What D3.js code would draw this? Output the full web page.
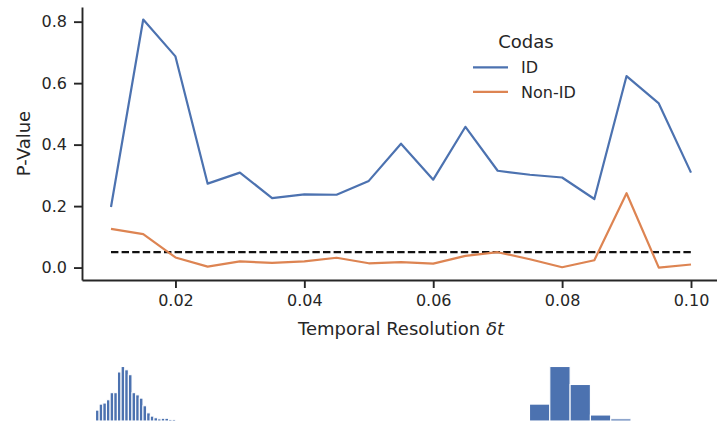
<!DOCTYPE html>
<html>
<head>
<meta charset="utf-8">
<script src="https://cdn.jsdelivr.net/npm/d3@7"></script>
<style>
  html, body { margin: 0; padding: 0; background: #fff; }
  svg { display: block; font-family: "DejaVu Sans", sans-serif; }
</style>
</head>
<body>
<svg id="chart" width="717" height="423"></svg>
<script>
// Temporal resolutions (s) at which the test was run
const resolutions = [0.010, 0.015, 0.020, 0.025, 0.030, 0.035, 0.040, 0.045, 0.050, 0.055,
                     0.060, 0.065, 0.070, 0.075, 0.080, 0.085, 0.090, 0.095, 0.100];
// P-values for identity codas
const idValues = [0.197, 0.807, 0.687, 0.273, 0.309, 0.226, 0.238, 0.237, 0.282, 0.403,
                  0.286, 0.458, 0.315, 0.302, 0.293, 0.223, 0.623, 0.534, 0.309];
// P-values for non-identity codas
const nonIdValues = [0.126, 0.109, 0.033, 0.003, 0.020, 0.015, 0.020, 0.032, 0.014, 0.018,
                     0.013, 0.038, 0.050, 0.027, 0.001, 0.024, 0.242, 0.000, 0.010];
const significance = 0.05;
const seriesNames = ["ID", "Non-ID"];
const legendTitle = "Codas";
const xTicks = [0.02, 0.04, 0.06, 0.08, 0.10];
const yTicks = [0.0, 0.2, 0.4, 0.6, 0.8];
// Inset histograms (relative bin counts)
const fineHistCounts = [20, 31, 33, 39, 52, 52, 90, 100, 94, 85, 52, 48, 42, 28, 15, 9, 6, 4, 5, 5, 3, 3, 1];
const coarseHistCounts = [31, 100, 67, 11, 4];

const ink = "#262626";
const colors = ["#4c72b0", "#dd8452"];

const svg = d3.select("#chart");

// Main axes
const x = d3.scaleLinear().domain([0.0055, 0.1045]).range([82, 720]);
const y = d3.scaleLinear().domain([-0.0404, 0.8477]).range([280, 7]);

const xAxis = d3.axisBottom(x).tickValues(xTicks).tickFormat(d3.format(".2f"))
  .tickSize(8).tickSizeOuter(0).tickPadding(7);
const yAxis = d3.axisLeft(y).tickValues(yTicks).tickFormat(d3.format(".1f"))
  .tickSize(8).tickSizeOuter(0).tickPadding(7);

const gx = svg.append("g").attr("transform", "translate(0,280)").call(xAxis);
const gy = svg.append("g").attr("transform", "translate(82,0)").call(yAxis);
[gx, gy].forEach(g => {
  g.select(".domain").attr("stroke", ink).attr("stroke-width", 1.9);
  g.selectAll(".tick line").attr("stroke", ink).attr("stroke-width", 1.9);
  g.selectAll(".tick text").attr("fill", ink).style("font-size", "16px")
    .style("font-family", "DejaVu Sans, sans-serif");
});

// Axis titles
const xt = svg.append("text")
  .attr("x", (x.range()[0] + x.range()[1]) / 2)
  .attr("y", 335)
  .attr("text-anchor", "middle")
  .attr("fill", ink)
  .style("font-size", "18px");
xt.append("tspan").text("Temporal Resolution ");
xt.append("tspan").style("font-style", "italic").text("δt");

svg.append("text")
  .attr("transform", `translate(29.5,${(y.range()[0] + y.range()[1]) / 2}) rotate(-90)`)
  .attr("text-anchor", "middle")
  .attr("fill", ink)
  .style("font-size", "18px")
  .text("P-Value");

// Significance threshold
svg.append("line")
  .attr("x1", x(resolutions[0])).attr("x2", x(resolutions[resolutions.length - 1]))
  .attr("y1", y(significance)).attr("y2", y(significance))
  .attr("stroke", "#111").attr("stroke-width", 2.2)
  .attr("stroke-dasharray", "7.4,3.2");

// Series lines
const line = d3.line().x((d, i) => x(resolutions[i])).y(d => y(d));
[idValues, nonIdValues].forEach((vals, k) => {
  svg.append("path")
    .datum(vals)
    .attr("d", line)
    .attr("fill", "none")
    .attr("stroke", colors[k])
    .attr("stroke-width", 2.2)
    .attr("stroke-linejoin", "round");
});

// Legend
const lg = svg.append("g");
lg.append("text").attr("x", 526).attr("y", 47.5).attr("text-anchor", "middle")
  .attr("fill", ink).style("font-size", "18px").text(legendTitle);
seriesNames.forEach((name, k) => {
  const cy = 67.3 + k * 24.5;
  lg.append("line").attr("x1", 473).attr("x2", 508).attr("y1", cy).attr("y2", cy)
    .attr("stroke", colors[k]).attr("stroke-width", 2.2);
  lg.append("text").attr("x", 521).attr("y", cy + 6).attr("fill", ink)
    .style("font-size", "16px").text(name);
});

// Inset histograms along the bottom
function histogram(counts, x0, x1) {
  const hx = d3.scaleLinear().domain([0, counts.length]).range([x0, x1]);
  const hy = d3.scaleLinear().domain([0, d3.max(counts)]).range([421, 366.5]);
  svg.append("g").selectAll("rect").data(counts).join("rect")
    .attr("x", (d, i) => hx(i))
    .attr("width", (d, i) => hx(i + 1) - hx(i))
    .attr("y", d => hy(d))
    .attr("height", d => hy(0) - hy(d))
    .attr("fill", "#4c72b0")
    .attr("stroke", "#fff")
    .attr("stroke-width", 1.1);
}
histogram(fineHistCounts, 95.5, 179.5);
histogram(coarseHistCounts, 529.5, 631);
</script>
</body>
</html>
